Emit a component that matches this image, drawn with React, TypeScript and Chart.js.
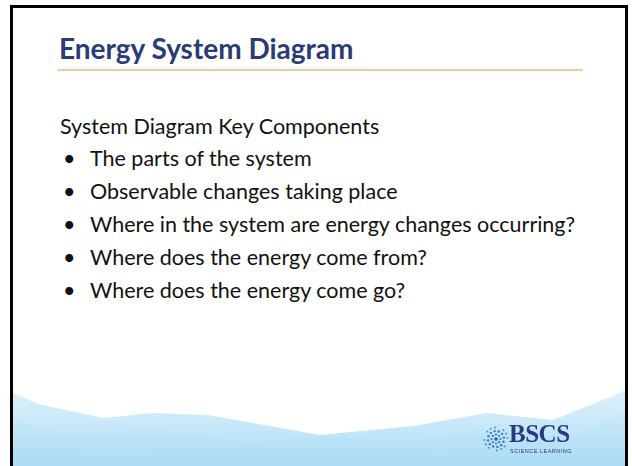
import React, { useEffect, useRef } from "react";
import { Chart, registerables } from "chart.js";

Chart.register(...registerables);

const titleText = "Energy System Diagram";
const introText = "System Diagram Key Components";
const bulletItems = [
  "The parts of the system",
  "Observable changes taking place",
  "Where in the system are energy changes occurring?",
  "Where does the energy come from?",
  "Where does the energy come go?",
];

// decorative ridge layers: x along the slide bottom, height above the bottom edge
const backRidgeX = [0, 25, 90, 140, 195, 307, 400, 474, 540, 600, 612];
const backRidgeH = [73, 62, 48, 53, 51, 31, 40, 53, 46, 70, 76];
const midRidgeX = [0, 60, 140, 240, 307, 400, 474, 560, 612];
const midRidgeH = [46, 30, 38, 22, 30, 24, 38, 30, 52];
const frontRidgeX = [0, 90, 200, 307, 420, 530, 612];
const frontRidgeH = [24, 12, 19, 30, 14, 21, 28];

function pts(xs: number[], hs: number[]) {
  return xs.map((x, i) => ({ x, y: hs[i] }));
}

function grad(top: string, bottom: string) {
  return (c: any) => {
    const chart = c.chart;
    const area = chart.chartArea;
    if (!area) return bottom;
    const g = chart.ctx.createLinearGradient(0, area.top, 0, area.bottom);
    g.addColorStop(0, top);
    g.addColorStop(1, bottom);
    return g;
  };
}

function Waves() {
  const ref = useRef<HTMLCanvasElement>(null);
  useEffect(() => {
    if (!ref.current) return;
    const chart = new Chart(ref.current, {
      type: "line",
      data: {
        datasets: [
          {
            data: pts(backRidgeX, backRidgeH),
            fill: "origin",
            backgroundColor: grad("rgba(225,242,252,0.9)", "rgba(170,220,245,1)"),
            borderColor: "rgba(0,0,0,0)",
            borderWidth: 0,
            pointRadius: 0,
            tension: 0,
          },
          {
            data: pts(midRidgeX, midRidgeH),
            fill: "origin",
            backgroundColor: grad("rgba(200,232,249,0.7)", "rgba(120,200,240,0.9)"),
            borderColor: "rgba(0,0,0,0)",
            borderWidth: 0,
            pointRadius: 0,
            tension: 0,
          },
          {
            data: pts(frontRidgeX, frontRidgeH),
            fill: "origin",
            backgroundColor: grad("rgba(140,210,243,0.6)", "rgba(85,190,236,0.95)"),
            borderColor: "rgba(0,0,0,0)",
            borderWidth: 0,
            pointRadius: 0,
            tension: 0,
          },
        ],
      },
      options: {
        animation: false,
        responsive: false,
        maintainAspectRatio: false,
        layout: { padding: 0 },
        plugins: { legend: { display: false }, tooltip: { enabled: false } },
        scales: {
          x: { type: "linear", min: 0, max: 612, display: false },
          y: { min: 0, max: 86, display: false },
        },
      },
    });
    return () => chart.destroy();
  }, []);
  return (
    <canvas
      ref={ref}
      width={612}
      height={86}
      style={{ position: "absolute", left: 13, top: 380, width: 612, height: 86 }}
    />
  );
}

function LogoIcon() {
  const dots: React.ReactNode[] = [];
  const rings = [
    { r: 4.5, n: 8, s: 1.1 },
    { r: 8, n: 12, s: 1.2 },
    { r: 11.5, n: 16, s: 1.1 },
  ];
  rings.forEach((ring, ri) => {
    for (let i = 0; i < ring.n; i++) {
      if (ri === 2 && i % 4 === 3) continue;
      const a = (i / ring.n) * Math.PI * 2 + ri * 0.35;
      dots.push(
        <circle
          key={ri + "-" + i}
          cx={13 + ring.r * Math.cos(a)}
          cy={14 + ring.r * Math.sin(a)}
          r={ring.s}
          fill={ri === 2 ? "#5a9bd0" : "#3b78b8"}
        />
      );
    }
  });
  dots.push(<circle key="c" cx={13} cy={14} r={1.8} fill="#2b5a9a" />);
  return (
    <svg width={26} height={28} style={{ position: "absolute", left: 483, top: 425 }}>
      {dots}
    </svg>
  );
}

export default function App() {
  const font = "Lato, 'Open Sans', sans-serif";
  return (
    <div
      style={{
        position: "fixed",
        left: 0,
        top: 0,
        width: 632,
        height: 466,
        overflow: "hidden",
        background: "#ffffff",
      }}
    >
      <div
        style={{
          position: "absolute",
          left: 10,
          top: 5,
          width: 612,
          height: 480,
          border: "3px solid #000",
          boxSizing: "content-box",
        }}
      />
      <Waves />
      <div
        style={{
          position: "absolute",
          left: 59,
          top: 31,
          fontFamily: font,
          fontWeight: 700,
          fontSize: 28,
          color: "#2b3a78",
          whiteSpace: "nowrap",
          lineHeight: "34px",
        }}
      >
        {titleText}
      </div>
      <div
        style={{
          position: "absolute",
          left: 57,
          top: 69,
          width: 526,
          height: 2,
          background: "#f8c8a0",
        }}
      />
      <div
        style={{
          position: "absolute",
          left: 60,
          top: 110,
          fontFamily: font,
          fontSize: 21.5,
          color: "#111",
          lineHeight: "32px",
          whiteSpace: "nowrap",
        }}
      >
        <div style={{ height: 32 }}>{introText}</div>
        {bulletItems.map((t, i) => (
          <div key={i} style={{ position: "relative", paddingLeft: 30, height: 33 }}>
            <span style={{ position: "absolute", left: 3 }}>•</span>
            {t}
          </div>
        ))}
      </div>
      <LogoIcon />
      <div
        style={{
          position: "absolute",
          left: 509,
          top: 421,
          fontFamily: "'Liberation Serif', 'DejaVu Serif', serif",
          fontWeight: 700,
          fontSize: 25,
          color: "#2b3a7e",
          lineHeight: "26px",
          letterSpacing: -0.5,
        }}
      >
        BSCS
      </div>
      <div
        style={{
          position: "absolute",
          left: 510,
          top: 448,
          fontFamily: "'Liberation Sans', sans-serif",
          fontSize: 5.5,
          color: "#2b3a7e",
          letterSpacing: 0.5,
          lineHeight: "6px",
          whiteSpace: "nowrap",
        }}
      >
        SCIENCE LEARNING
      </div>
    </div>
  );
}
